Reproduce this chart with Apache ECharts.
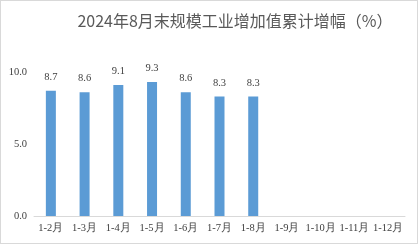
<!DOCTYPE html>
<html><head><meta charset="utf-8">
<script src="https://cdn.jsdelivr.net/npm/echarts@6/dist/echarts.min.js"></script>
<style>html,body{margin:0;padding:0;background:#fff}#c{width:418px;height:244px;box-sizing:border-box;border:1px solid #d9d9d9}</style>
</head><body><div id="c"></div>
<script>
const titleText = '2024年8月末规模工业增加值累计增幅（%）';
const categories = ['1-2月','1-3月','1-4月','1-5月','1-6月','1-7月','1-8月','1-9月','1-10月','1-11月','1-12月'];
const values = [8.7, 8.6, 9.1, 9.3, 8.6, 8.3, 8.3, null, null, null, null];
const yTicks = [0, 5, 10];

const chart = echarts.init(document.getElementById('c'));
chart.setOption({
  animation: false,
  title: {
    text: titleText, left: 229, top: 7, textAlign: 'center',
    textStyle: {fontFamily: 'Noto Sans CJK SC', fontSize: 16, fontWeight: 'normal', color: '#595959'}
  },
  grid: {left: 33, right: 12, top: 71, bottom: 27, containLabel: false},
  xAxis: {
    type: 'category', data: categories,
    axisLine: {lineStyle: {color: '#d9d9d9'}},
    axisTick: {show: false},
    axisLabel: {fontFamily: 'Liberation Serif', fontSize: 10.5, color: '#404040', margin: 7, interval: 0}
  },
  yAxis: {
    type: 'value', min: yTicks[0], max: yTicks[yTicks.length-1], interval: 5,
    splitLine: {show: false},
    axisLine: {show: false}, axisTick: {show: false},
    axisLabel: {fontFamily: 'Liberation Serif', fontSize: 10.5, color: '#404040', margin: 7,
      formatter: v => v.toFixed(1)}
  },
  series: [{
    type: 'bar', data: values, barWidth: 10,
    itemStyle: {color: '#5B9BD5'},
    label: {show: true, position: 'top', distance: 8, fontFamily: 'Liberation Serif', fontSize: 10.5, color: '#404040',
      formatter: p => p.value == null ? '' : p.value.toFixed(1)}
  }]
});
</script></body></html>
